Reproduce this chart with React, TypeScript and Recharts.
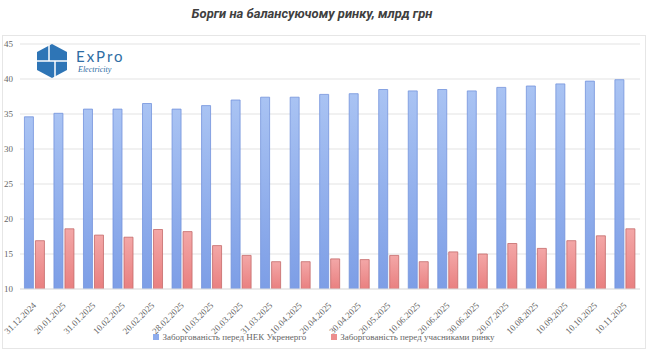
import { Bar, BarChart, CartesianGrid, XAxis, YAxis } from "recharts";

const dates = [
  "31.12.2024", "20.01.2025", "31.01.2025", "10.02.2025", "20.02.2025", "28.02.2025",
  "10.03.2025", "20.03.2025", "31.03.2025", "10.04.2025", "20.04.2025", "30.04.2025",
  "20.05.2025", "10.06.2025", "20.06.2025", "30.06.2025", "20.07.2025", "10.08.2025",
  "10.09.2025", "10.10.2025", "10.11.2025",
];

const ukrenergoDebt = [
  34.6, 35.1, 35.7, 35.7, 36.5, 35.7, 36.2, 37.0, 37.4, 37.4, 37.8, 37.9,
  38.5, 38.3, 38.5, 38.3, 38.8, 39.0, 39.3, 39.7, 39.9,
];

const participantsDebt = [
  16.9, 18.6, 17.7, 17.4, 18.5, 18.2, 16.2, 14.8, 13.9, 13.9, 14.3, 14.2,
  14.8, 13.9, 15.3, 15.0, 16.5, 15.8, 16.9, 17.6, 18.6,
];

const yTicks = [10, 15, 20, 25, 30, 35, 40, 45];

const seriesNames = ["Заборгованість перед НЕК Укренерго", "Заборгованість перед учасниками ринку"];

const data = dates.map((date, i) => ({
  date,
  ukrenergo: ukrenergoDebt[i],
  participants: participantsDebt[i],
}));

const serif = "'Liberation Serif', 'Times New Roman', serif";

function DateTick({ x, y, payload }: any) {
  return (
    <g transform={`translate(${x + 2},${y + 9})`}>
      <text textAnchor="end" transform="rotate(-45)" fontSize={9} fill="#666" fontFamily={serif}>
        {payload.value}
      </text>
    </g>
  );
}

function Logo() {
  return (
    <svg width={110} height={40} style={{ position: "absolute", left: 36, top: 43 }}>
      <polygon points="16,1 31,9 31,27 16,35 1,27 1,9" fill="#2e75b6" />
      <line x1={13} y1={2} x2={13} y2={18} stroke="#fff" strokeWidth={1.5} />
      <line x1={1} y1={18} x2={31} y2={18} stroke="#fff" strokeWidth={1.5} />
      <line x1={19} y1={18} x2={19} y2={34} stroke="#fff" strokeWidth={1.5} />
      <text x={40} y={19} fontSize={15} fontFamily="Lato, sans-serif" fill="#2e6da4" letterSpacing={2}>
        ExPro
      </text>
      <text x={42} y={29} fontSize={8} fontStyle="italic" fontFamily={serif} fill="#2e6da4">
        Electricity
      </text>
    </svg>
  );
}

export default function App() {
  return (
    <div style={{ position: "absolute", left: 0, top: 0, width: 648, height: 362, background: "#fff" }}>
      <div
        style={{
          position: "absolute",
          top: 6,
          left: 0,
          width: 624,
          textAlign: "center",
          fontFamily: "Roboto, sans-serif",
          fontWeight: 700,
          fontStyle: "italic",
          fontSize: 13,
          color: "#404040",
        }}
      >
        Борги на балансуючому ринку, млрд грн
      </div>
      <div
        style={{
          position: "absolute",
          left: 2,
          top: 35,
          width: 642,
          height: 312,
          border: "1px solid #e6e6e6",
        }}
      />
      <div style={{ position: "absolute", left: 0, top: 0 }}>
        <BarChart
          width={648}
          height={362}
          data={data}
          margin={{ top: 44, right: 8, left: 0, bottom: 23 }}
          barCategoryGap="15%"
          barGap={2}
        >
          <defs>
            <linearGradient id="blueFill" x1="0" y1="0" x2="0" y2="1">
              <stop offset="0%" stopColor="#a9c3f3" />
              <stop offset="100%" stopColor="#7d9ee6" />
            </linearGradient>
            <linearGradient id="redFill" x1="0" y1="0" x2="0" y2="1">
              <stop offset="0%" stopColor="#f3a7a7" />
              <stop offset="100%" stopColor="#e98080" />
            </linearGradient>
          </defs>
          <CartesianGrid vertical={false} stroke="#e3e3e3" />
          <XAxis
            dataKey="date"
            height={50}
            interval={0}
            tickLine={false}
            axisLine={{ stroke: "#e3e3e3" }}
            tick={<DateTick />}
          />
          <YAxis
            width={20}
            domain={[10, 45]}
            ticks={yTicks}
            allowDataOverflow
            tickLine={false}
            tickSize={0}
            tickMargin={7}
            axisLine={false}
            tick={{ fill: "#666", fontSize: 9, fontFamily: serif }}
          />
          <Bar
            dataKey="ukrenergo"
            name={seriesNames[0]}
            fill="url(#blueFill)"
            stroke="#7393dc"
            strokeWidth={0.8}
            isAnimationActive={false}
          />
          <Bar
            dataKey="participants"
            name={seriesNames[1]}
            fill="url(#redFill)"
            stroke="#c46a6a"
            strokeWidth={0.8}
            isAnimationActive={false}
          />
        </BarChart>
      </div>
      <Logo />
      <div
        style={{
          position: "absolute",
          top: 332,
          left: 0,
          width: 648,
          display: "flex",
          justifyContent: "center",
          gap: 25,
          fontFamily: serif,
          fontSize: 9,
          color: "#666",
        }}
      >
        <span style={{ display: "flex", alignItems: "center" }}>
          <span style={{ width: 6, height: 6, background: "#8eacec", marginRight: 3 }} />
          {seriesNames[0]}
        </span>
        <span style={{ display: "flex", alignItems: "center" }}>
          <span style={{ width: 6, height: 6, background: "#ec8e8e", marginRight: 3 }} />
          {seriesNames[1]}
        </span>
      </div>
    </div>
  );
}
